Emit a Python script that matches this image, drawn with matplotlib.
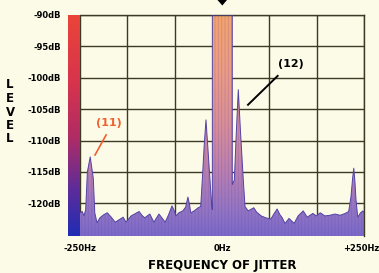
import numpy as np
import matplotlib.pyplot as plt
from matplotlib.colors import LinearSegmentedColormap
from matplotlib.patches import Polygon
from matplotlib.transforms import ScaledTranslation

# jitter spectrum (Hz, dB)
freq_hz = [-250, -246, -243, -240, -239, -237, -232, -229, -226.6, -224, -220, -215,
           -208, -202, -195, -188, -181, -174, -169, -160, -152, -146, -140, -136,
           -127, -120, -111, -105, -100, -94, -88, -84, -81, -76, -69, -64, -60,
           -57, -55, -49, -42, -37.5, -34.7, -31.5, -28.2, -25, -21.1, -18.1, -17,
           -17, 18.1, 18.1, 21.7, 25.3, 28.7, 32.5, 37.5, 40.5, 46, 52, 56, 61, 69, 77,
           86, 92, 97, 102, 106, 111, 118, 127, 134, 143, 150, 160, 166, 173, 181,
           190, 199, 208, 217, 223, 227, 230, 232, 234, 236, 239, 244, 248, 250]
level_db = [-121.5, -121.3, -122.0, -121.0, -119.0, -115.0, -112.6, -114.5, -116.0,
            -121.5, -123.1, -122.3, -121.8, -121.5, -122.2, -123.0, -122.6, -122.2,
            -123.0, -122.0, -121.6, -121.3, -122.0, -122.3, -121.7, -123.0, -121.7,
            -122.4, -123.0, -121.8, -120.4, -121.2, -122.0, -121.5, -121.2, -120.6,
            -119.0, -120.3, -121.5, -121.2, -120.7, -120.5, -116.3, -111.0, -106.7,
            -111.0, -116.3, -120.5, -121.0,
            -90.0, -90.0, -117.0, -116.3, -108.5, -101.9, -108.5, -116.3, -120.5,
            -121.2, -120.9, -120.7, -121.4, -122.0, -122.3, -122.5, -121.6,
            -120.9, -121.8, -122.3, -123.2, -122.4, -123.2, -122.0, -121.2, -122.2,
            -121.6, -122.0, -121.5, -122.0, -121.9, -121.7, -121.9, -121.6, -121.3,
            -119.0, -116.0, -114.4, -116.5, -119.5, -122.2, -121.5, -121.2, -121.5]

x_ticks = [-250, -250 + 500 / 6, -250 + 1000 / 6, 0, 250 - 1000 / 6, 250 - 500 / 6, 250]
x_labels = ['-250Hz', '', '', '0Hz', '', '', '+250Hz']
y_ticks = [-90, -95, -100, -105, -110, -115, -120]
y_labels = ['-90dB', '-95dB', '-100dB', '-105dB', '-110dB', '-115dB', '-120dB']
y_min, y_max = -125.2, -90

bg = '#fcfbe8'
grid_c = '#3c3a22'
plt.rcParams['hatch.linewidth'] = 0.6

fig = plt.figure(figsize=(3.79, 2.73), dpi=100, facecolor=bg)
ax = fig.add_axes([80 / 379, 1 - 236 / 273, 284 / 379, 221 / 273])
ax.set_facecolor(bg)
ax.set_xlim(-250, 250)
ax.set_ylim(y_min, y_max)

# grid
ax.set_xticks(x_ticks)
ax.set_xticklabels(x_labels, fontsize=6, fontweight='bold')
ax.set_yticks(y_ticks)
ax.set_yticklabels(y_labels, fontsize=6, fontweight='bold')
ax.tick_params(length=0, axis='x', pad=6)
ax.tick_params(length=0, axis='y', pad=13.5)
lab = ax.get_xticklabels()[-1]
lab.set_transform(lab.get_transform() + ScaledTranslation(-3 / 100, 0, fig.dpi_scale_trans))
ax.grid(True, color=grid_c, lw=1.0)
ax.set_axisbelow(True)
for s in ['top', 'right']:
    ax.spines[s].set_color(grid_c)
    ax.spines[s].set_linewidth(1.0)
ax.spines['left'].set_visible(False)
ax.spines['bottom'].set_visible(False)

# gradient fill under the spectrum
fill_cmap = LinearSegmentedColormap.from_list('fill', [
    (0.0, '#7a6aca'), (0.13, '#9676c2'), (0.3, '#bb80b0'),
    (0.5, '#d88e98'), (0.75, '#ec9c84'), (1.0, '#f3a46c')])
grad = np.linspace(0, 1, 256).reshape(-1, 1)
im = ax.imshow(grad, cmap=fill_cmap, origin='lower', aspect='auto',
               extent=[-250, 250, y_min, y_max], zorder=2)
verts = [(freq_hz[0], y_min)] + list(zip(freq_hz, level_db)) + [(freq_hz[-1], y_min)]
clip = Polygon(verts, closed=True, transform=ax.transData, fc='none', ec='none')
ax.add_patch(clip)
im.set_clip_path(clip)
# faint vertical striation like the printed original
stripes = Polygon(verts, closed=True, fc='none', ec='#5a3c9a', hatch='|||||',
                  lw=0, alpha=0.22, zorder=2.5)
ax.add_patch(stripes)
ax.plot(freq_hz, level_db, color='#5242a6', lw=0.7, zorder=3)

# colour strip on the left
cax = fig.add_axes([68 / 379, 1 - 236 / 273, 12 / 379, 221 / 273])
strip_cmap = LinearSegmentedColormap.from_list('strip', [
    (0.0, '#1f2cb4'), (0.2, '#5a2c9c'), (0.45, '#b02c64'),
    (0.7, '#d8344c'), (1.0, '#ea443a')])
cax.imshow(grad, cmap=strip_cmap, origin='lower', aspect='auto')
cax.axis('off')

# annotations
ax.text(-200, -107.2, '(11)', color='#f0602e', fontsize=8, fontweight='bold',
        ha='center', va='center', zorder=5)
ax.plot([-204, -223.6], [-109.1, -112.3], color='#f0602e', lw=1.2, zorder=5)
ax.text(121.5, -97.8, '(12)', color='black', fontsize=8, fontweight='bold',
        ha='center', va='center', zorder=5)
ax.plot([98, 45.8], [-99.7, -104.3], color='black', lw=1.4, zorder=5)

# arrow tip at top
fig.patches.append(Polygon([(217.5 / 379, 1.0), (227 / 379, 1.0), (222.3 / 379, 1 - 5.5 / 273)],
                           closed=True, transform=fig.transFigure, fc='black', ec='none'))

fig.text(222 / 379, 1 - 266 / 273, 'FREQUENCY OF JITTER', fontsize=8.5,
         fontweight='bold', ha='center', va='center')
fig.text(10 / 379, 1 - 112 / 273, 'L\nE\nV\nE\nL', fontsize=8.5, fontweight='bold',
         ha='center', va='center', linespacing=1.05)

fig.savefig('out.png', dpi=100, facecolor=bg)
